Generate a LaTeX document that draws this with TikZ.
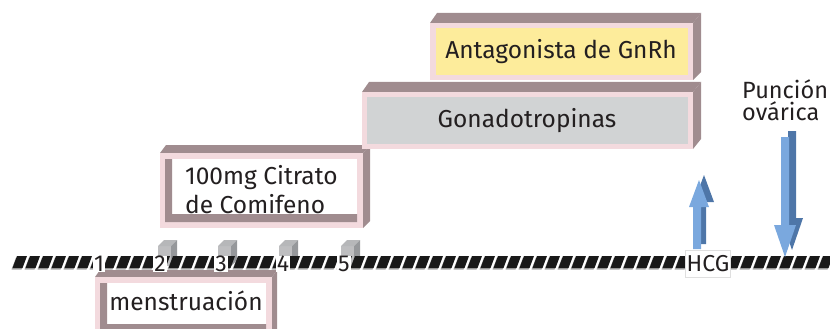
\documentclass[tikz,border=0pt]{standalone}
\usepackage{fontspec}
\setmainfont{Fira Sans}
\definecolor{mauve}{RGB}{160,140,143}
\definecolor{pinkb}{RGB}{243,218,222}
\definecolor{yellowf}{RGB}{253,236,155}
\definecolor{grayf}{RGB}{209,211,212}
\definecolor{bluef}{RGB}{122,168,222}
\definecolor{blued}{RGB}{78,118,168}
\definecolor{blkl}{RGB}{190,190,192}
\definecolor{blkd}{RGB}{150,152,155}
\definecolor{txt}{RGB}{35,31,32}
\tikzset{
  lbl/.style={text=txt, font=\fontsize{24.5}{26}\selectfont, inner sep=0pt},
  tick/.style={text=txt, fill=white, font=\fontsize{23}{24}\selectfont, inner xsep=1pt, inner ysep=0pt},
}
\begin{document}
\begin{tikzpicture}[x=1pt,y=-1pt]
\useasboundingbox (0,0) rectangle (830,329);
\begin{scope}
\clip (0,0) rectangle (830,329);
% small gray blocks
\foreach \bx in {158,218,279,341}{
  \fill[blkl] (\bx,246) rectangle (\bx+13,266);
  \fill[blkd!70!white] (\bx,246) -- (\bx+6,240) -- (\bx+19,240) -- (\bx+13,246) -- cycle;
  \fill[blkd] (\bx+13,246) -- (\bx+19,240) -- (\bx+19,260) -- (\bx+13,266) -- cycle;
}
% timeline
\foreach \i in {0,...,62}{
  \pgfmathsetmacro{\tx}{17+13*\i}
  \fill[gray!70] (\tx-1,257.5) -- (\tx+9,257.5) -- (\tx+4.5,269.5) -- (\tx-5.5,269.5) -- cycle;
  \fill[black!90] (\tx,256) -- (\tx+10,256) -- (\tx+5.5,268) -- (\tx-4.5,268) -- cycle;
}
% menstruacion box
\fill[mauve] (95,277) -- (100,270) -- (277,270) -- (272,277) -- cycle;
\fill[mauve] (272,277) -- (277,270) -- (277,329) -- (272,335) -- cycle;
\fill[pinkb] (95,277) rectangle (272,340);
\fill[white] (100,283) rectangle (266,335);
\fill[mauve] (100,283) -- (107,283) -- (107,324) -- (266,324) -- (266,335) -- (100,335) -- cycle;
\end{scope}
\node[lbl] (mens) at (186,301) {menstruación};
% citrato box
\fill[mauve] (160,153) -- (166,145) -- (370,145) -- (363,153) -- cycle;
\fill[mauve] (363,153) -- (370,145) -- (370,221) -- (363,228) -- cycle;
\fill[pinkb] (160,153) rectangle (363,228);
\fill[white] (165,159) rectangle (357,222);
\fill[mauve] (165,159) -- (172,159) -- (172,214) -- (357,214) -- (357,222) -- (165,222) -- cycle;
\node[lbl, anchor=west] (cit1) at (185,178) {100mg Citrato};
\node[lbl, anchor=west] (cit2) at (185,204) {de Comifeno};
% gonadotropinas box
\fill[mauve] (362,92) -- (369,82) -- (701,82) -- (693,92) -- cycle;
\fill[mauve] (693,92) -- (701,82) -- (701,139) -- (693,149) -- cycle;
\fill[pinkb] (362,92) rectangle (693,149);
\fill[grayf] (367,97) rectangle (688,144);
\node[lbl] (gona) at (527,121) {Gonadotropinas};
% antagonista box
\fill[mauve] (430,23) -- (437,13) -- (701,13) -- (693,23) -- cycle;
\fill[mauve] (693,23) -- (701,13) -- (701,72) -- (693,80) -- cycle;
\fill[pinkb] (430,23) rectangle (693,80);
\fill[yellowf] (436,28) rectangle (688,75);
\node[lbl] (anta) at (561,52) {Antagonista de GnRh};
% tick labels
\node[tick] (t1) at (99,264) {1};
\node[tick] (t2) at (160,264) {2};
\node[tick] (t3) at (221,264) {3};
\node[tick] (t4) at (283,264) {4};
\node[tick] (t5) at (344,264) {5};
\node[tick, draw=gray!25, line width=0.6pt, minimum height=27pt, inner xsep=1.5pt] (hcg) at (708,263.5) {HCG};
% punción text
\node[lbl, anchor=north west, align=left, font=\fontsize{23.5}{22}\selectfont] (punc) at (742,79) {Punción\\ovárica};
% HCG up arrow
\fill[blued] (698,244) -- (698,202) -- (694,202) -- (704,175) -- (714,202) -- (706,202) -- (706,244) -- cycle;
\fill[bluef] (693,249) -- (693,207) -- (689,207) -- (699,180) -- (709,207) -- (701,207) -- (701,249) -- cycle;
% puncion down arrow
\fill[blued] (788,131) -- (796,131) -- (796,218) -- (803,218) -- (792,250) -- (781,218) -- (788,218) -- cycle;
\fill[bluef] (781,137) -- (789,137) -- (789,225) -- (796,225) -- (785,257) -- (774,225) -- (781,225) -- cycle;
\end{tikzpicture}
\end{document}
